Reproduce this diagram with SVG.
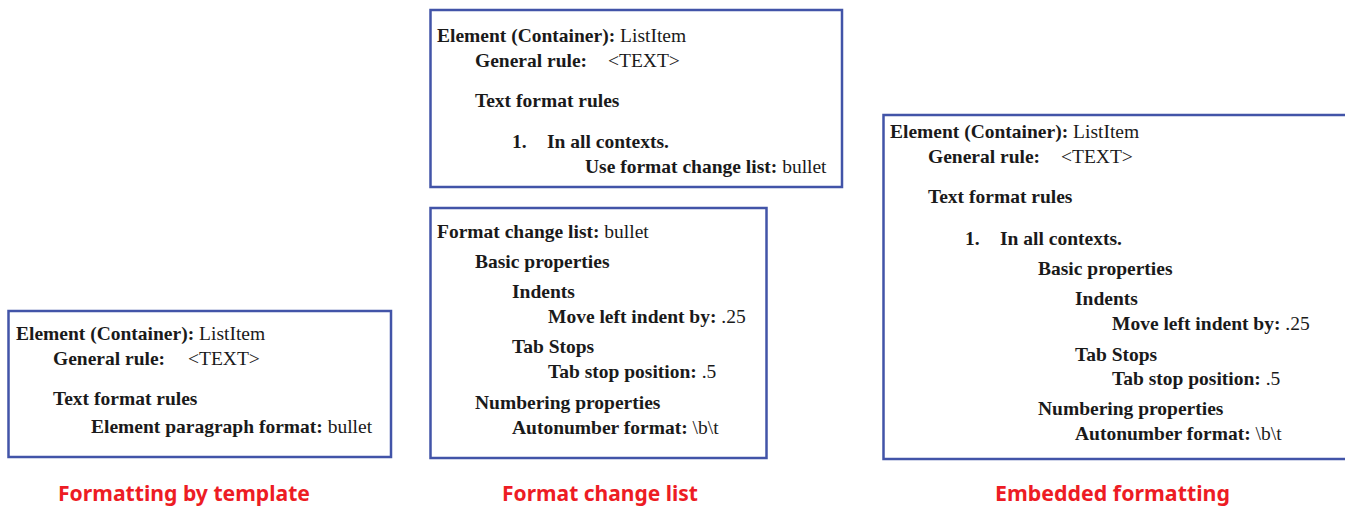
<svg xmlns="http://www.w3.org/2000/svg" width="1345" height="506" viewBox="0 0 1345 506">
  <style>
    .box { fill: #ffffff; stroke: #4254a8; stroke-width: 2.5; }
    .t { font-family: "Liberation Serif", "Times New Roman", serif; font-size: 19.5px; fill: #1a1a1a; }
    .b { font-weight: bold; }
    .cap { font-family: "Noto Sans", "Open Sans", sans-serif; font-size: 22px; font-weight: bold; fill: #ed1c24; }
  </style>
  <rect width="1345" height="506" fill="#ffffff"/>

  <!-- Template-based formatting -->
  <g id="template-box">
    <rect class="box" x="8.5" y="311" width="382.5" height="146"/>
    <text class="t" x="16" y="340"><tspan class="b">Element (Container):</tspan> ListItem</text>
    <text class="t b" x="53" y="365">General rule:</text>
    <text class="t" x="188" y="365">&lt;TEXT&gt;</text>
    <text class="t b" x="53" y="405">Text format rules</text>
    <text class="t" x="91" y="433"><tspan class="b">Element paragraph format:</tspan> bullet</text>
  </g>

  <!-- Element that refers to a format change list -->
  <g id="element-box">
    <rect class="box" x="430.5" y="10" width="411.5" height="177"/>
    <text class="t" x="437" y="42"><tspan class="b">Element (Container):</tspan> ListItem</text>
    <text class="t b" x="475" y="67">General rule:</text>
    <text class="t" x="608" y="67">&lt;TEXT&gt;</text>
    <text class="t b" x="475" y="107">Text format rules</text>
    <text class="t b" x="512" y="148">1.</text>
    <text class="t b" x="547" y="148">In all contexts.</text>
    <text class="t" x="585" y="173"><tspan class="b">Use format change list:</tspan> bullet</text>
  </g>

  <!-- The format change list itself -->
  <g id="change-list-box">
    <rect class="box" x="430.5" y="208" width="336" height="250"/>
    <text class="t" x="437" y="238"><tspan class="b">Format change list:</tspan> bullet</text>
    <text class="t b" x="475" y="268">Basic properties</text>
    <text class="t b" x="512" y="298">Indents</text>
    <text class="t" x="548" y="323"><tspan class="b">Move left indent by:</tspan> .25</text>
    <text class="t b" x="512" y="353">Tab Stops</text>
    <text class="t" x="548" y="378"><tspan class="b">Tab stop position:</tspan> .5</text>
    <text class="t b" x="475" y="409">Numbering properties</text>
    <text class="t" x="512" y="434"><tspan class="b">Autonumber format:</tspan> \b\t</text>
  </g>

  <!-- Formatting embedded in the element -->
  <g id="embedded-box">
    <rect class="box" x="883.5" y="115" width="470" height="344"/>
    <text class="t" x="890" y="138"><tspan class="b">Element (Container):</tspan> ListItem</text>
    <text class="t b" x="928" y="163">General rule:</text>
    <text class="t" x="1061" y="163">&lt;TEXT&gt;</text>
    <text class="t b" x="928" y="203">Text format rules</text>
    <text class="t b" x="965" y="245">1.</text>
    <text class="t b" x="1000" y="245">In all contexts.</text>
    <text class="t b" x="1038" y="275">Basic properties</text>
    <text class="t b" x="1075" y="305">Indents</text>
    <text class="t" x="1112" y="330"><tspan class="b">Move left indent by:</tspan> .25</text>
    <text class="t b" x="1075" y="361">Tab Stops</text>
    <text class="t" x="1112" y="385"><tspan class="b">Tab stop position:</tspan> .5</text>
    <text class="t b" x="1038" y="415">Numbering properties</text>
    <text class="t" x="1075" y="440"><tspan class="b">Autonumber format:</tspan> \b\t</text>
  </g>

  <!-- Captions -->
  <g id="captions">
    <text class="cap" x="58" y="501" textLength="252" lengthAdjust="spacingAndGlyphs">Formatting by template</text>
    <text class="cap" x="502" y="501" textLength="196" lengthAdjust="spacingAndGlyphs">Format change list</text>
    <text class="cap" x="995" y="501" textLength="235" lengthAdjust="spacingAndGlyphs">Embedded formatting</text>
  </g>
</svg>
